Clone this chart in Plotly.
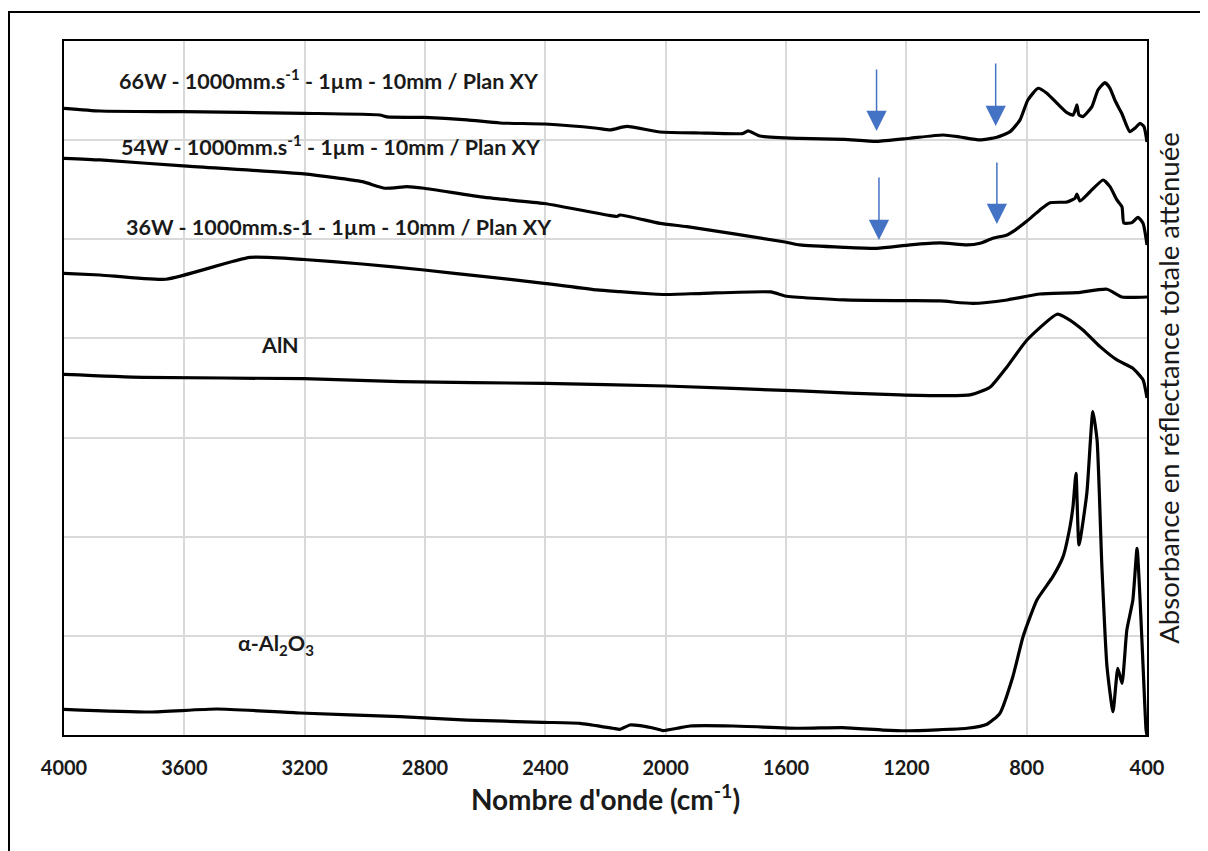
import plotly.graph_objects as go

# ---- data (wavenumber cm-1, offset absorbance) ----
wn_66 = [4000, 3880, 3604, 3202, 2950, 2926, 2803, 2660, 2551, 2401, 2228, 2185, 2129, 2019, 1886, 1743, 1726, 1687,
         1554, 1407, 1298, 1188, 1078, 1022, 955, 899, 855, 822, 796, 762, 733, 699, 666, 646, 636, 633, 626, 613, 583,
         563, 540, 523, 507, 490, 483, 473, 457, 440, 423, 410, 400]
ab_66 = [6.321, 6.294, 6.287, 6.271, 6.254, 6.234, 6.229, 6.204, 6.173, 6.163, 6.120, 6.103, 6.138, 6.082, 6.072, 6.067,
         6.093, 6.042, 6.017, 6.007, 5.987, 6.019, 6.052, 6.032, 6.002, 6.029, 6.086, 6.204, 6.405, 6.523, 6.473, 6.372,
         6.277, 6.254, 6.325, 6.355, 6.254, 6.237, 6.338, 6.506, 6.580, 6.523, 6.405, 6.304, 6.264, 6.186, 6.086, 6.120,
         6.170, 6.136, 5.982]

wn_54 = [4000, 3880, 3604, 3202, 3009, 2933, 2860, 2803, 2601, 2404, 2195, 2162, 2152, 2019, 1929, 1603, 1554, 1407,
         1298, 1188, 1088, 998, 955, 912, 865, 846, 799, 756, 722, 666, 639, 633, 623, 590, 546, 523, 500, 483, 477,
         450, 430, 413, 400]
ab_54 = [5.817, 5.800, 5.740, 5.659, 5.581, 5.515, 5.531, 5.515, 5.422, 5.361, 5.245, 5.230, 5.245, 5.161, 5.127, 4.973,
         4.943, 4.919, 4.909, 4.943, 4.963, 4.943, 4.960, 5.010, 5.044, 5.077, 5.185, 5.296, 5.369, 5.376, 5.414, 5.457,
         5.386, 5.477, 5.598, 5.531, 5.397, 5.326, 5.165, 5.168, 5.222, 5.161, 4.943]

wn_36 = [4000, 3880, 3661, 3382, 3202, 3009, 2803, 2601, 2404, 2228, 2152, 2042, 2002, 1873, 1650, 1603, 1407, 1205,
         1088, 979, 865, 756, 633, 533, 483, 400]
ab_36 = [4.657, 4.640, 4.597, 4.817, 4.796, 4.751, 4.690, 4.623, 4.556, 4.489, 4.472, 4.448, 4.443, 4.455, 4.469, 4.428,
         4.388, 4.381, 4.378, 4.353, 4.388, 4.448, 4.462, 4.496, 4.418, 4.418]

wn_aln = [4000, 3737, 3202, 2883, 2401, 1999, 1554, 1221, 988, 922, 865, 799, 699, 666, 613, 556, 500, 447, 413, 400]
ab_aln = [3.638, 3.608, 3.594, 3.564, 3.546, 3.520, 3.470, 3.430, 3.430, 3.507, 3.715, 3.984, 4.244, 4.203, 4.085,
          3.917, 3.783, 3.699, 3.581, 3.399]

wn_al2o3 = [4000, 3714, 3491, 3216, 2883, 2660, 2408, 2285, 2175, 2152, 2119, 2085, 2029, 2009, 1962, 1919, 1776, 1554,
            1411, 1278, 1198, 998, 932, 889, 846, 812, 766, 713, 679, 656, 646, 636, 626, 600, 580, 566, 550, 533, 513,
            497, 483, 467, 447, 433, 423, 413, 403, 400]
ab_al2o3 = [0.259, 0.232, 0.262, 0.222, 0.185, 0.151, 0.128, 0.118, 0.068, 0.057, 0.101, 0.094, 0.061, 0.045, 0.068,
            0.091, 0.091, 0.068, 0.074, 0.050, 0.043, 0.068, 0.108, 0.219, 0.588, 0.992, 1.362, 1.597, 1.799, 2.101,
            2.303, 2.640, 1.917, 2.438, 3.261, 2.976, 1.698, 0.689, 0.235, 0.673, 0.521, 1.059, 1.362, 1.883, 1.362,
            0.689, 0.050, 0.0]

labels = ["66W - 1000mm.s<sup>-1</sup> - 1µm - 10mm / Plan XY",
          "54W - 1000mm.s<sup>-1</sup> - 1µm - 10mm / Plan XY",
          "36W - 1000mm.s-1 - 1µm - 10mm / Plan XY",
          "AlN",
          "α-Al<sub>2</sub>O<sub>3</sub>"]
label_x = [3119, 3114, 3086, 3282, 3295]
label_y = [6.607, 5.941, 5.124, 3.934, 0.908]

arrow_x = [1299, 903, 1291, 899]
arrow_y = [6.093, 6.143, 4.993, 5.154]
arrow_len = [-63, -64, -64, -63]

FONT = "Lato"
INK = "#1a1a1a"

fig = go.Figure()
for xs, ys in [(wn_66, ab_66), (wn_54, ab_54), (wn_36, ab_36), (wn_aln, ab_aln), (wn_al2o3, ab_al2o3)]:
    fig.add_trace(go.Scatter(x=xs, y=ys, mode="lines",
                             line=dict(color="black", width=3.2, shape="spline", smoothing=0.5),
                             showlegend=False, hoverinfo="skip"))

for t, x, y in zip(labels, label_x, label_y):
    fig.add_annotation(x=x, y=y, text="<b>" + t + "</b>", showarrow=False,
                       font=dict(family=FONT, size=21.5, color=INK))

for x, y, l in zip(arrow_x, arrow_y, arrow_len):
    fig.add_annotation(x=x, y=y, ax=0, ay=l, text="", showarrow=True,
                       arrowhead=2, arrowsize=2.7, arrowwidth=1.5, arrowcolor="#4472C4")

# outer frame of the original figure
fig.add_shape(type="rect", xref="paper", yref="paper",
              x0=(9 - 64) / 1083, x1=(1260 - 64) / 1083,
              y0=(735 - 900) / 694, y1=(735 - 12) / 694,
              line=dict(color="black", width=2), layer="below")

# the page adds an 8px body margin; size/margins compensate so the plot area lands at 64..1147 x 41..735
fig.update_layout(
    width=1200, height=843,
    margin=dict(l=56, r=61, t=33, b=116),
    paper_bgcolor="white", plot_bgcolor="white",
    font=dict(family=FONT, color=INK),
    xaxis=dict(range=[4000, 400], tick0=400, dtick=400, showgrid=True, gridcolor="#d9d9d9", gridwidth=1.5,
               showline=True, linecolor="black", linewidth=2, mirror=True, ticks="",
               ticklabelstandoff=14,
               tickfont=dict(family=FONT, size=20, color=INK, weight="bold"),
               title=dict(text="<b>Nombre d'onde (cm<sup>-1</sup>)</b>", standoff=12,
                          font=dict(family=FONT, size=28, color=INK)),
               zeroline=False),
    yaxis=dict(range=[0, 7], dtick=1, side="right", showgrid=True, gridcolor="#d9d9d9", gridwidth=1.5,
               showline=True, linecolor="black", linewidth=2, mirror=True, ticks="", showticklabels=False,
               title=dict(text="Absorbance en réflectance totale atténuée", standoff=12,
                          font=dict(family=FONT, size=27.5, color=INK)),
               zeroline=False),
)

fig.write_html("out.html", config={"displayModeBar": False})
